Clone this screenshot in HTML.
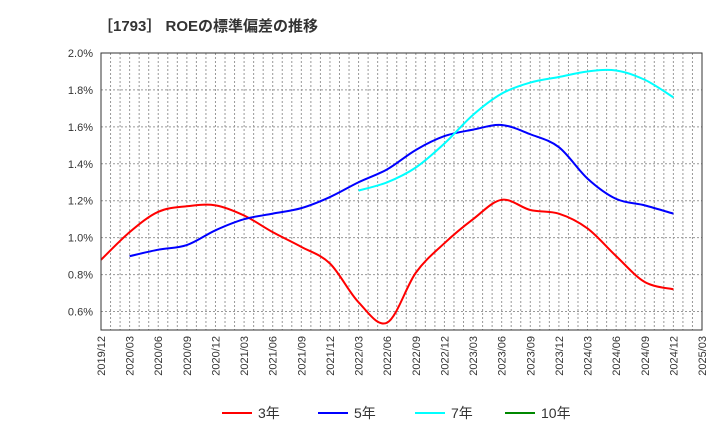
<!DOCTYPE html>
<html><head><meta charset="utf-8"><style>
body{margin:0;background:#fff;font-family:"Liberation Sans","Noto Sans CJK JP",sans-serif}
svg text{font-family:"Liberation Sans","Noto Sans CJK JP",sans-serif}
</style></head><body>
<svg id="chart" width="720" height="440">
<text x="98" y="31" font-size="15" font-weight="bold" fill="#333">［1793］ ROEの標準偏差の推移</text>
<g id="grid"></g><g id="axes"></g><g id="series"></g>
<rect x="101" y="53" width="601" height="277" fill="none" stroke="#333" stroke-width="1"/>
<g>
<line x1="222" y1="413" x2="252" y2="413" stroke="#f00" stroke-width="2"/>
<text x="258" y="418" font-size="14" fill="#333">3年</text>
<line x1="318" y1="413" x2="348" y2="413" stroke="#00f" stroke-width="2"/>
<text x="354" y="418" font-size="14" fill="#333">5年</text>
<line x1="415" y1="413" x2="445" y2="413" stroke="#0ff" stroke-width="2"/>
<text x="451" y="418" font-size="14" fill="#333">7年</text>
<line x1="505" y1="413" x2="535" y2="413" stroke="#080" stroke-width="2"/>
<text x="541" y="418" font-size="14" fill="#333">10年</text>
</g>
</svg>
<script>
const xLabels=["2019/12","2020/03","2020/06","2020/09","2020/12","2021/03","2021/06","2021/09","2021/12","2022/03","2022/06","2022/09","2022/12","2023/03","2023/06","2023/09","2023/12","2024/03","2024/06","2024/09","2024/12","2025/03"];
const yTicks=[0.6,0.8,1.0,1.2,1.4,1.6,1.8,2.0];
const red=[0.88,1.03,1.14,1.17,1.175,1.12,1.03,0.95,0.86,0.65,0.54,0.81,0.97,1.10,1.205,1.15,1.13,1.05,0.90,0.76,0.72];
const blue=[null,0.90,0.935,0.96,1.04,1.10,1.13,1.16,1.22,1.30,1.37,1.475,1.55,1.585,1.61,1.56,1.49,1.32,1.21,1.175,1.13];
const cyan=[null,null,null,null,null,null,null,null,null,1.255,1.30,1.38,1.51,1.665,1.78,1.84,1.87,1.90,1.905,1.855,1.76];
const green=[];
const X0=101,X1=702,Y0=330,Y1=53,V0=0.5,V1=2.0;
const xq=i=>X0+(X1-X0)*i/21;
const yv=v=>Y0-(v-V0)/(V1-V0)*(Y0-Y1);
const NS="http://www.w3.org/2000/svg";
function mk(t,a,p){const e=document.createElementNS(NS,t);for(const k in a)e.setAttribute(k,a[k]);p.appendChild(e);return e;}
const grid=document.getElementById('grid'),axes=document.getElementById('axes'),ser=document.getElementById('series');
for(let m=1;m<63;m++){const x=X0+(X1-X0)*m/63;
const l=mk('line',{x1:x,y1:Y1,x2:x,y2:Y0,stroke:'#999','stroke-width':1,'stroke-dasharray':'2,2'},grid);

}
yTicks.forEach(v=>{const y=yv(v);
const l=mk('line',{x1:X0,y1:y,x2:X1,y2:y,stroke:'#999','stroke-width':1,'stroke-dasharray':'2,2'},grid);


const t=mk('text',{x:93,y:y+4,'font-size':11,fill:'#333','text-anchor':'end'},axes);t.textContent=v.toFixed(1)+'%';

});
xLabels.forEach((s,i)=>{const x=xq(i);
const t=mk('text',{x:0,y:0,'font-size':11,fill:'#333','text-anchor':'end',transform:`translate(${x+4},336) rotate(-90)`},axes);t.textContent=s;

});
function path(arr){const p=[];arr.forEach((v,i)=>{if(v!=null)p.push([xq(i),yv(v)]);});
if(p.length<2)return '';let d=`M${p[0][0]},${p[0][1]}`;
for(let i=0;i<p.length-1;i++){const a=p[Math.max(0,i-1)],b=p[i],c=p[i+1],e=p[Math.min(p.length-1,i+2)];
d+=` C${b[0]+(c[0]-a[0])/6},${b[1]+(c[1]-a[1])/6} ${c[0]-(e[0]-b[0])/6},${c[1]-(e[1]-b[1])/6} ${c[0]},${c[1]}`;}return d;}
[[red,'#f00','series-3y'],[blue,'#00f','series-5y'],[cyan,'#0ff','series-7y'],[green,'#080','series-10y']].forEach(([a,c,n])=>{
const d=path(a);if(!d)return;
const e=mk('path',{d:d,fill:'none',stroke:c,'stroke-width':2},ser);

});
</script>
</body></html>
